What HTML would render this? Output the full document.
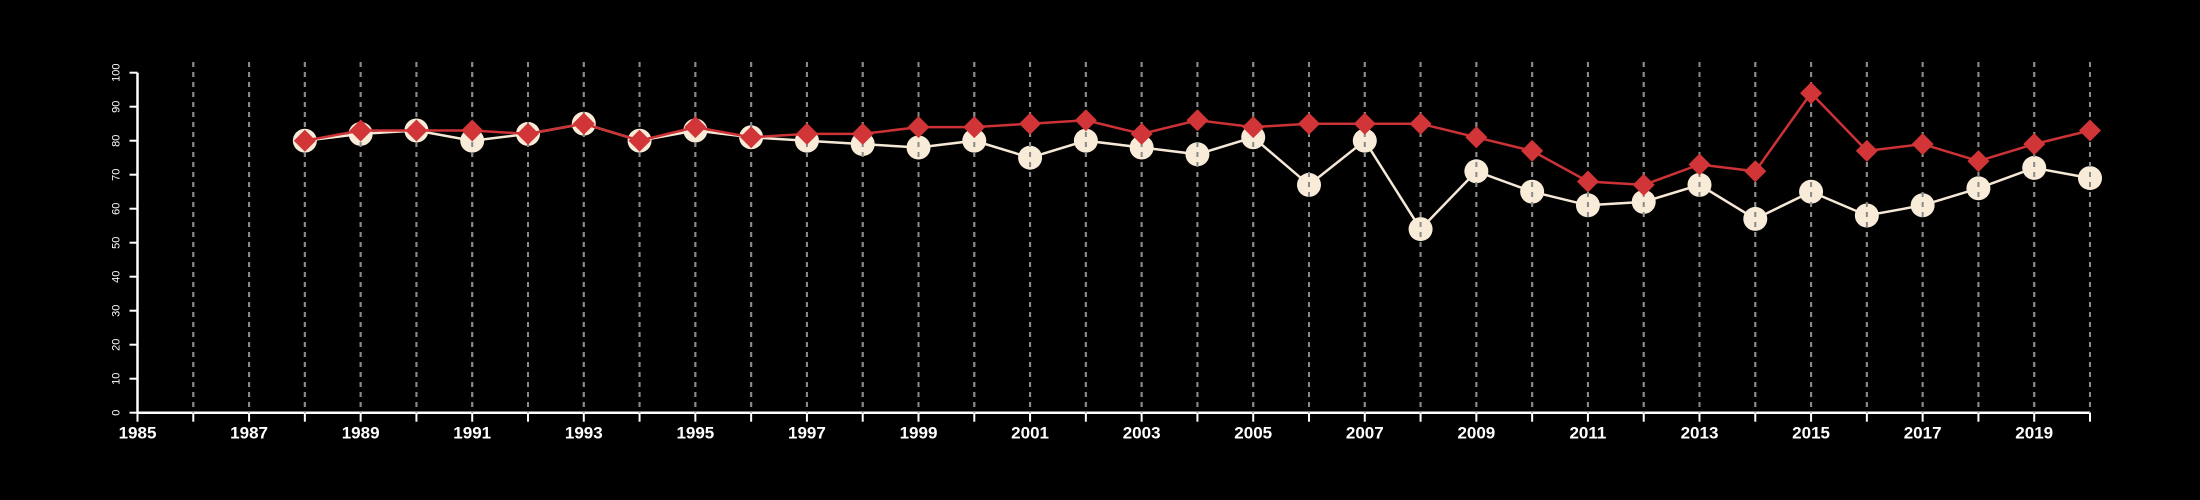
<!DOCTYPE html>
<html><head><meta charset="utf-8"><style>html,body{margin:0;background:#000;}svg{display:block;}</style></head>
<body>
<svg id="chart" width="2200" height="500" xmlns="http://www.w3.org/2000/svg" font-family="Liberation Sans, sans-serif">
<rect width="2200" height="500" fill="#000"/>
<g id="grid"></g>
<g id="axes"></g>
<g id="white"></g>
<g id="grid2"></g>
<g id="red"></g>
</svg>
<script>
const years = [1988,1989,1990,1991,1992,1993,1994,1995,1996,1997,1998,1999,2000,2001,2002,2003,2004,2005,2006,2007,2008,2009,2010,2011,2012,2013,2014,2015,2016,2017,2018,2019,2020];
const whiteValues = [80,82,83,80,82,85,80,83,81,80,79,78,80,75,80,78,76,81,67,80,54,71,65,61,62,67,57,65,58,61,66,72,69];
const redValues = [80,83,83,83,82,85,80,84,81,82,82,84,84,85,86,82,86,84,85,85,85,81,77,68,67,73,71,94,77,79,74,79,83];
const yTicks = [0,10,20,30,40,50,60,70,80,90,100];
const xTickLabels = [1985,1987,1989,1991,1993,1995,1997,1999,2001,2003,2005,2007,2009,2011,2013,2015,2017,2019];

const NS='http://www.w3.org/2000/svg';
const x0=137.5, x1=2090, y0=412.7, y1=72.7;
const xs=y=>x0+(y-1985)*(x1-x0)/35;
const ys=v=>y0-(v/100)*(y0-y1);
function mk(tag,attrs,parent){const e=document.createElementNS(NS,tag);for(const k in attrs)e.setAttribute(k,attrs[k]);parent.appendChild(e);return e;}
const grid=document.getElementById('grid'),grid2=document.getElementById('grid2'),axes=document.getElementById('axes'),wg=document.getElementById('white'),rg=document.getElementById('red');
for(let yr=1986;yr<=2020;yr++){
  [grid,grid2].forEach(g=>{
    const l=mk('line',{x1:xs(yr),x2:xs(yr),y1:62,y2:y0,stroke:'#8a8a8a','stroke-width':2,'stroke-dasharray':'5,5'},g);
    
    
  });
}
// axes
let a=mk('line',{x1:x0,x2:x0,y1:ys(100),y2:y0,stroke:'#fff','stroke-width':2.5},axes);

a=mk('line',{x1:x0,x2:x1,y1:y0,y2:y0,stroke:'#fff','stroke-width':2.5},axes);

yTicks.forEach(v=>{
  const t=mk('line',{x1:x0-8,x2:x0,y1:ys(v),y2:ys(v),stroke:'#fff','stroke-width':2},axes);
  
  const tx=mk('text',{x:0,y:0,transform:`translate(${x0-18},${ys(v)}) rotate(-90)`,'text-anchor':'middle',fill:'#fff','font-size':11},axes);
  tx.textContent=v;
  
});
for(let yr=1985;yr<=2020;yr++){
  const t=mk('line',{x1:xs(yr),x2:xs(yr),y1:y0,y2:y0+9,stroke:'#fff','stroke-width':2},axes);
  
}
xTickLabels.forEach(yr=>{
  const tx=mk('text',{x:xs(yr),y:y0+26,'text-anchor':'middle',fill:'#fff','font-size':17,'font-weight':'bold'},axes);
  tx.textContent=yr;
  
});
// white series
let p=mk('polyline',{points:years.map((y,i)=>xs(y)+','+ys(whiteValues[i])).join(' '),fill:'none',stroke:'#f6e8d6','stroke-width':2.5},wg);

years.forEach((y,i)=>{
  const c=mk('circle',{cx:xs(y),cy:ys(whiteValues[i]),r:12,fill:'#f8ebd8'},wg);
  
});
// red series
p=mk('polyline',{points:years.map((y,i)=>xs(y)+','+ys(redValues[i])).join(' '),fill:'none',stroke:'#cc3236','stroke-width':2.5},rg);

years.forEach((y,i)=>{
  const cx=xs(y),cy=ys(redValues[i]),d=11;
  const m=mk('polygon',{points:`${cx},${cy-d} ${cx+d},${cy} ${cx},${cy+d} ${cx-d},${cy}`,fill:'#d13538'},rg);
  
});
</script>
</body></html>
